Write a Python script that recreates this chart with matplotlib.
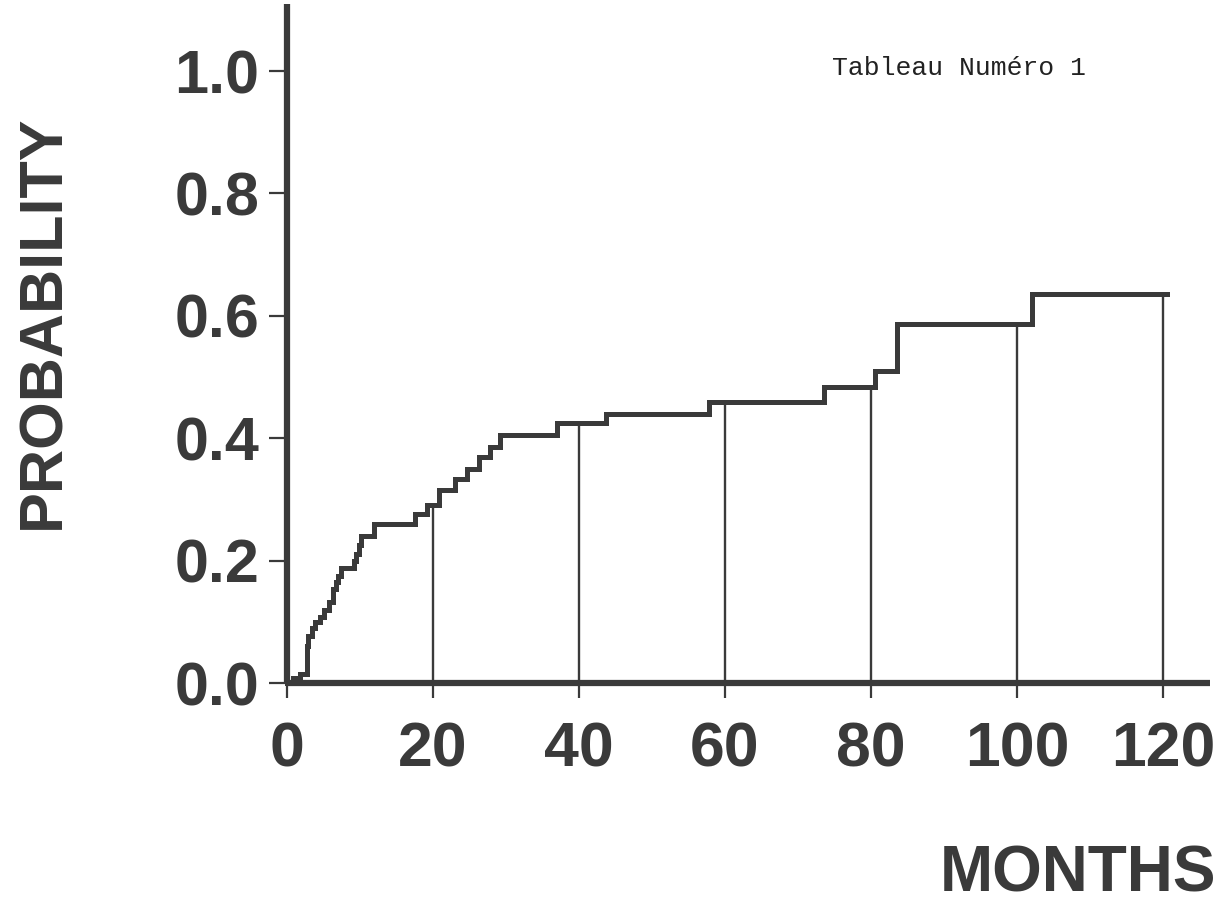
import numpy as np
import matplotlib
matplotlib.use("Agg")
import matplotlib.pyplot as plt

# ---- data ----
months = [0, 0.8, 1.8, 2.7, 2.9, 3.4, 3.9, 4.5, 5.0, 5.7, 6.3, 6.7, 7.0, 7.4,
          9.2, 9.5, 9.8, 10.1, 11.9, 17.6, 19.2, 20.8, 23.0, 24.7, 26.3, 27.8,
          29.2, 37.0, 43.7, 57.8, 73.6, 80.6, 83.5, 102.0, 120.5]
probability = [0.0, 0.008, 0.015, 0.06, 0.076, 0.09, 0.10, 0.108, 0.12, 0.133,
               0.153, 0.165, 0.175, 0.188, 0.20, 0.21, 0.225, 0.24, 0.259,
               0.276, 0.291, 0.315, 0.333, 0.35, 0.37, 0.386, 0.405, 0.425,
               0.44, 0.459, 0.484, 0.51, 0.587, 0.635, 0.635]
marker_months = [20, 40, 60, 80, 100, 120]
x_ticks = [0, 20, 40, 60, 80, 100, 120]
y_ticks = [0.0, 0.2, 0.4, 0.6, 0.8, 1.0]
y_tick_labels = ["0.0", "0.2", "0.4", "0.6", "0.8", "1.0"]

INK = "#3a3a3a"
W, H = 1226, 911
fig = plt.figure(figsize=(W / 100, H / 100), dpi=100)
fig.patch.set_facecolor("white")

x0, y0 = 287, 683          # pixel origin
px_per_month = 7.3
px_per_unit = 612
xmax, ymax = 126.5, 1.11
ax = fig.add_axes([x0 / W, (H - y0) / H, xmax * px_per_month / W, ymax * px_per_unit / H])
ax.set_xlim(0, xmax)
ax.set_ylim(0, ymax)

# step curve
ax.step(months, probability, where="post", color=INK, lw=3.6,
        solid_joinstyle="miter", zorder=3, clip_on=False)

# vertical lines from axis to curve at marker months
m = np.asarray(months)
p = np.asarray(probability)
heights = p[np.searchsorted(m, marker_months, side="right") - 1]
ax.vlines(marker_months, 0, heights, color=INK, lw=1.7, zorder=2)

# spines
for s in ["top", "right"]:
    ax.spines[s].set_visible(False)
for s in ["left", "bottom"]:
    ax.spines[s].set_linewidth(4.5)
    ax.spines[s].set_color(INK)
    ax.spines[s].set_capstyle("butt")

lab_font = dict(family="Liberation Sans", weight="bold")
ax.set_xticks(x_ticks)
ax.set_xticklabels([str(v) for v in x_ticks], fontsize=45, color=INK, **lab_font)
ax.set_yticks(y_ticks)
ax.set_yticklabels(y_tick_labels, fontsize=44, color=INK, **lab_font)
ax.tick_params(axis="x", direction="out", length=11, width=1.6, color=INK, pad=16)
ax.tick_params(axis="y", direction="out", length=13, width=1.6, color=INK, pad=7)

fig.text(44 / W, 1 - 322 / H, "PROBABILITY", rotation=90, ha="center", va="center",
         fontsize=44, color=INK, **lab_font)
fig.text(1078 / W, 1 - 875 / H, "MONTHS", ha="center", va="center",
         fontsize=46, color=INK, **lab_font)
fig.text(832 / W, 1 - 68 / H, "Tableau Numéro 1", ha="left", va="center",
         fontsize=19, color="#222222", family="Liberation Mono")

fig.savefig("out.png", dpi=100, facecolor="white")
